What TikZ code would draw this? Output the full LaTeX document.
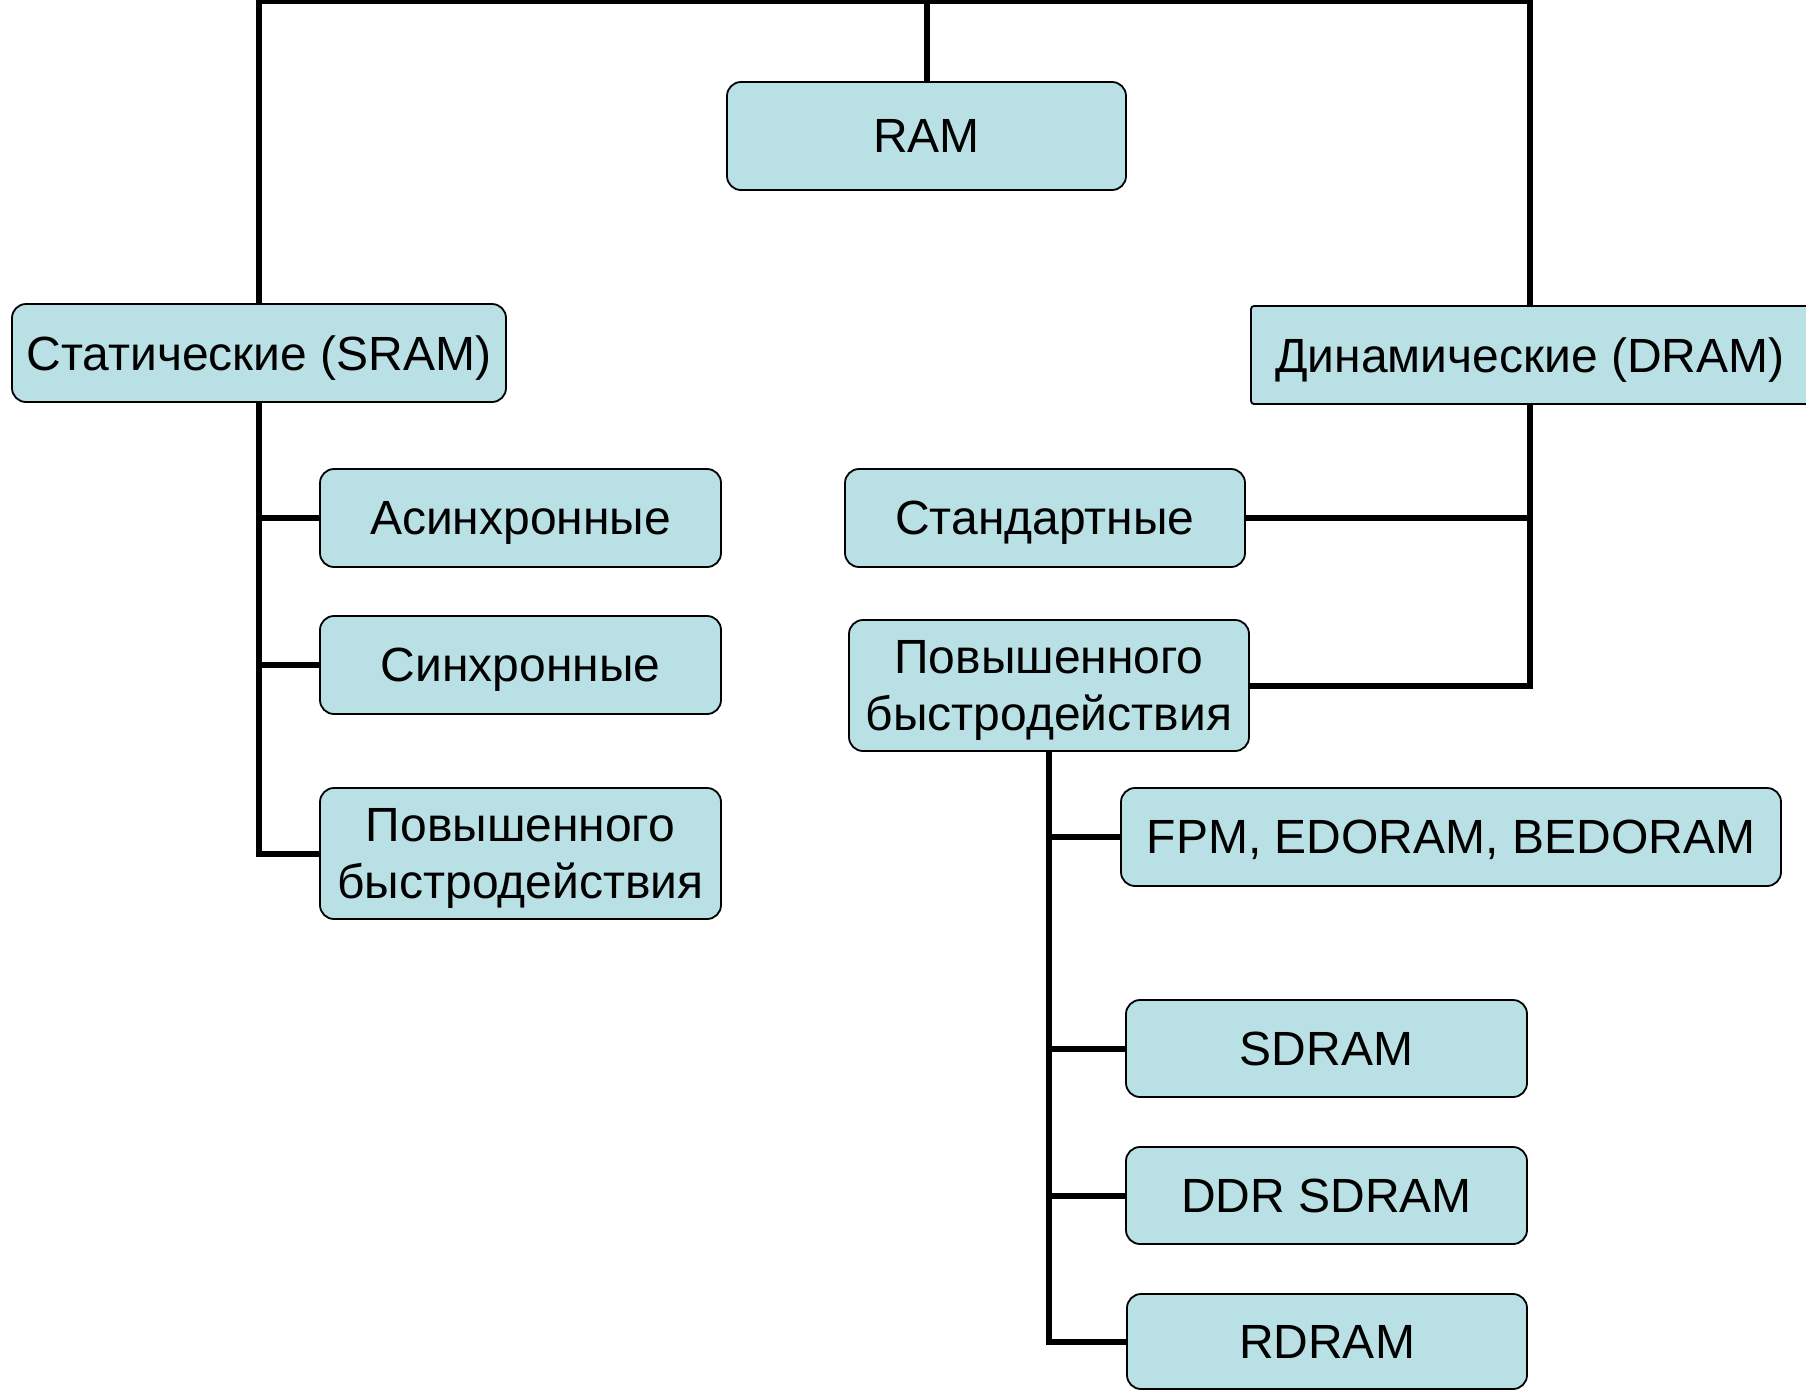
\documentclass[tikz,border=0pt]{standalone}
\usepackage{fontspec}
\setmainfont{Liberation Sans}
\definecolor{boxfill}{RGB}{185,224,228}
\begin{document}
\begin{tikzpicture}[x=1pt,y=-1pt,
  box/.style={draw=black, line width=1.8pt, fill=boxfill, rounded corners=14pt,
    inner sep=0pt, align=center, text depth=0pt, font=\fontsize{48}{57}\selectfont},
  link/.style={draw=black, line width=6pt}]
\clip (0,0) rectangle (1806,1390);

% junction of the top bus above RAM
\coordinate (top) at (926.5,1);

% boxes
\path
  node[box, minimum width=399pt, minimum height=108pt] (ram)   at (926.5,136) {RAM}
  node[box, minimum width=494pt, minimum height=98pt]  (sram)  at (259,353)   {Статические (SRAM)}
  node[box, rounded corners=3pt, minimum width=558pt, minimum height=98pt] (dram) at (1530,355) {Динамические (DRAM)}
  node[box, minimum width=401pt, minimum height=98pt]  (async) at (520.5,518) {Асинхронные}
  node[box, minimum width=401pt, minimum height=98pt]  (sync)  at (520.5,665) {Синхронные}
  node[box, minimum width=401pt, minimum height=131pt] (fastl) at (520.5,853.5) {Повышенного\\быстродействия}
  node[box, minimum width=400pt, minimum height=98pt]  (std)   at (1045,518)  {Стандартные}
  node[box, minimum width=400pt, minimum height=131pt] (fastr) at (1049,685.5) {Повышенного\\быстродействия}
  node[box, minimum width=660pt, minimum height=98pt]  (fpm)   at (1451,837)    {FPM, EDORAM, BEDORAM}
  node[box, minimum width=401pt, minimum height=97pt]  (sdram) at (1326.5,1048.5) {SDRAM}
  node[box, minimum width=401pt, minimum height=97pt]  (ddr)   at (1326.5,1195.5) {DDR SDRAM}
  node[box, minimum width=400pt, minimum height=95pt]  (rdram) at (1327,1341.5) {RDRAM};

% top bus
\draw[link] (ram.north) -- (top);
\draw[link] (sram.north) |- (top) -| (dram.north);

% static branch
\draw[link] (sram.south) |- (fastl.west);
\draw[link] (sram.south |- async.west) -- (async.west);
\draw[link] (sram.south |- sync.west) -- (sync.west);

% dynamic branch
\draw[link] (dram.south) |- (fastr.east);
\draw[link] (std.east) -- (std.east -| dram.south);

% high-speed dynamic branch
\draw[link] (fastr.south) |- (rdram.west);
\draw[link] (fastr.south |- fpm.west) -- (fpm.west);
\draw[link] (fastr.south |- sdram.west) -- (sdram.west);
\draw[link] (fastr.south |- ddr.west) -- (ddr.west);
\end{tikzpicture}
\end{document}
